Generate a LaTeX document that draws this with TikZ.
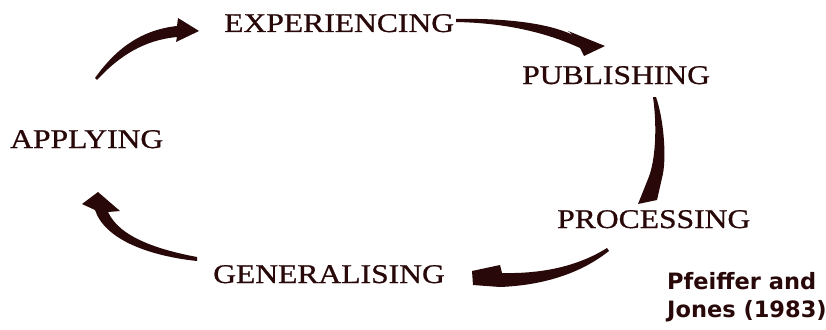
\documentclass[tikz,border=0pt]{standalone}
\usepackage{fontspec}
\newfontfamily\labfont[FakeStretch=1.17,FakeBold=0.8]{Liberation Serif}
\newfontfamily\citefont{DejaVu Sans}
\definecolor{ink}{RGB}{40,8,8}
\begin{document}
\begin{tikzpicture}[x=1pt,y=-1pt,
  stage/.style={inner sep=0pt,anchor=base west,text=ink,font=\labfont\fontsize{27}{30}\selectfont},
  brush/.style={fill=ink,draw=none}]
\useasboundingbox (0,0) rectangle (826,329);
% labels
\node[stage] (exp) at (224,32) {EXPERIENCING};
\node[stage] (pub) at (522,84) {PUBLISHING};
\node[stage] (app) at (10,148) {APPLYING};
\node[stage] (pro) at (557,228) {PROCESSING};
\node[stage] (gen) at (213,283) {GENERALISING};
\node[inner sep=0pt,anchor=base west,text=ink,align=left,
  font=\citefont\bfseries\fontsize{22.5}{28}\selectfont] (cite) at (667,317)
  {Pfeiffer and\\Jones (1983)};
% arrow 1: applying -> experiencing
\fill[brush] (95,78) .. controls (115,50) and (140,30) .. (177,26)
  -- (178,18) -- (199,31) -- (176,42) -- (177,37)
  .. controls (145,40) and (120,55) .. (97,80) -- cycle;
% arrow 2: experiencing -> publishing
\fill[brush] (456,19) .. controls (510,18) and (550,24) .. (573,35)
  -- (568,31) -- (605,46) -- (584,56) -- (580,48)
  .. controls (545,32) and (505,23) .. (456,22) -- cycle;
% arrow 3: publishing -> processing
\fill[brush] (656,97) .. controls (664,120) and (667,160) .. (662,178)
  -- (657,200) -- (638,204) -- (648,179)
  .. controls (656,160) and (657,125) .. (653,97) -- cycle;
% arrow 4: processing -> generalising
\fill[brush] (607,248) .. controls (580,265) and (545,274) .. (502,273)
  -- (500,265) -- (472,271) -- (473,285) -- (500,287)
  .. controls (550,285) and (585,270) .. (609,251) -- cycle;
% arrow 5: generalising -> applying
\fill[brush] (197,257) .. controls (160,250) and (120,238) .. (108,212)
  -- (120,211) -- (98,192) -- (82,204) -- (95,210)
  .. controls (105,240) and (150,256) .. (197,261) -- cycle;
\end{tikzpicture}
\end{document}
